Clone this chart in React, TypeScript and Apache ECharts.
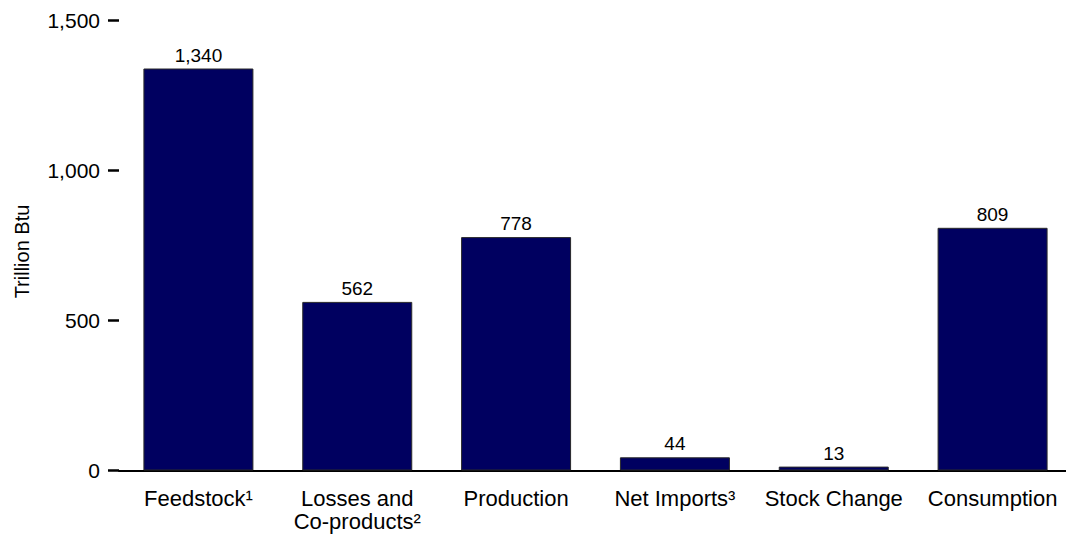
import React, { useEffect, useRef } from "react";
import * as echarts from "echarts";

const categories = [
  "Feedstock¹",
  "Losses and\nCo-products²",
  "Production",
  "Net Imports³",
  "Stock Change",
  "Consumption",
];
const values = [1340, 562, 778, 44, 13, 809];
const yMin = 0;
const yMax = 1500;
const yInterval = 500;
const yTitle = "Trillion Btu";

const FONT = "'Liberation Sans', Arial, Helvetica, sans-serif";
const fmt = (v: number) => v.toLocaleString("en-US");

export default function App() {
  const ref = useRef<HTMLDivElement>(null);
  useEffect(() => {
    if (!ref.current) return;
    const chart = echarts.init(ref.current, undefined, { renderer: "svg" });
    chart.setOption({
      animation: false,
      backgroundColor: "#ffffff",
      textStyle: { fontFamily: FONT, color: "#000" },
      grid: {
        left: 119,
        width: 953,
        top: 20.5,
        height: 450,
        containLabel: false,
        outerBoundsMode: "none",
      },
      graphic: [
        {
          type: "text",
          x: 22,
          y: 251.5,
          rotation: Math.PI / 2,
          style: {
            text: yTitle,
            fontFamily: FONT,
            fontSize: 20,
            fill: "#000",
            align: "center",
            verticalAlign: "middle",
          },
        },
      ],
      xAxis: {
        type: "category",
        data: categories,
        axisLine: { show: true, lineStyle: { color: "#000", width: 2 } },
        axisTick: { show: false },
        axisLabel: {
          interval: 0,
          margin: 16,
          fontSize: 22,
          lineHeight: 23.5,
          color: "#000",
          fontFamily: FONT,
        },
        splitLine: { show: false },
      },
      yAxis: {
        type: "value",
        min: yMin,
        max: yMax,
        interval: yInterval,
        axisLine: { show: false },
        axisTick: { show: true, inside: false, length: 11, lineStyle: { color: "#000", width: 2.5 } },
        axisLabel: {
          margin: 19,
          fontSize: 21,
          color: "#000",
          fontFamily: FONT,
          formatter: (v: number) => fmt(v),
        },
        splitLine: { show: false },
      },
      series: [
        {
          type: "bar",
          data: values,
          barWidth: 110,
          itemStyle: { color: "#000060", borderColor: "#2a2a2a", borderWidth: 1 },
          label: {
            show: true,
            position: "top",
            distance: 4,
            fontSize: 19,
            color: "#000",
            fontFamily: FONT,
            formatter: (p: any) => fmt(p.value),
          },
        },
      ],
    });
    return () => chart.dispose();
  }, []);
  return (
    <div
      ref={ref}
      style={{ position: "absolute", left: 0, top: 0, width: 1066, height: 537 }}
    />
  );
}
